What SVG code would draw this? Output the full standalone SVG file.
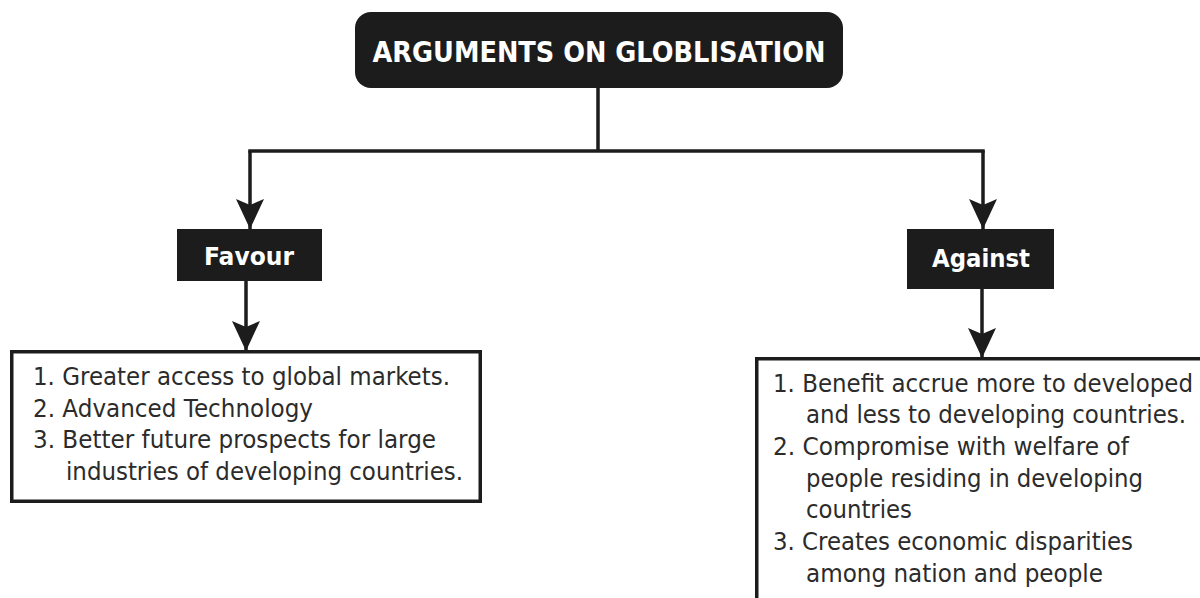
<svg xmlns="http://www.w3.org/2000/svg" width="1200" height="598" viewBox="0 0 1200 598">
  <style>
    .dark { fill: #1c1c1c; }
    .hdr { font-family: "DejaVu Sans", Verdana, sans-serif; font-weight: bold; fill: #ffffff; text-anchor: middle; }
    .body { font-family: "DejaVu Sans", Verdana, sans-serif; font-size: 24px; fill: #2b2b2b; }
    .box { fill: #ffffff; stroke: #1c1c1c; stroke-width: 3.5; }
    .conn { fill: none; stroke: #1c1c1c; stroke-width: 3.5; }
  </style>
  <defs>
    <marker id="arrow" markerUnits="userSpaceOnUse" viewBox="0 -15 30 30" markerWidth="30" markerHeight="30" refX="30" refY="0" orient="auto">
      <path d="M0,-14 L30,0 L0,14 L6,0 Z" fill="#1c1c1c"/>
    </marker>
  </defs>
  <rect width="1200" height="598" fill="#ffffff"/>

  <g id="connectors">
    <path class="conn" d="M598,88 V151"/>
    <path class="conn" d="M250,151 H983" stroke-linecap="square"/>
    <path class="conn" d="M250,151 V229" marker-end="url(#arrow)"/>
    <path class="conn" d="M983,151 V229" marker-end="url(#arrow)"/>
    <path class="conn" d="M246,281 V351" marker-end="url(#arrow)"/>
    <path class="conn" d="M982,289 V358" marker-end="url(#arrow)"/>
  </g>

  <g id="title">
    <rect class="dark" x="355" y="12" width="488" height="76" rx="16"/>
    <text class="hdr" x="599" y="62" font-size="29" textLength="453" lengthAdjust="spacingAndGlyphs">ARGUMENTS ON GLOBLISATION</text>
  </g>

  <g id="favour">
    <rect class="dark" x="177" y="229" width="145" height="52"/>
    <text class="hdr" x="249" y="265" font-size="24" textLength="90" lengthAdjust="spacingAndGlyphs">Favour</text>
  </g>

  <g id="against">
    <rect class="dark" x="907" y="229" width="147" height="60"/>
    <text class="hdr" x="981" y="267" font-size="24" textLength="98" lengthAdjust="spacingAndGlyphs">Against</text>
  </g>

  <g id="favour-points">
    <rect class="box" x="11.75" y="351.75" width="468.5" height="149.5"/>
    <text class="body" x="33" y="385" textLength="417" lengthAdjust="spacingAndGlyphs">1. Greater access to global markets.</text>
    <text class="body" x="33" y="417" textLength="280" lengthAdjust="spacingAndGlyphs">2. Advanced Technology</text>
    <text class="body" x="33" y="448" textLength="403" lengthAdjust="spacingAndGlyphs">3. Better future prospects for large</text>
    <text class="body" x="66" y="480" textLength="397" lengthAdjust="spacingAndGlyphs">industries of developing countries.</text>
  </g>

  <g id="against-points">
    <path class="box" fill="none" d="M756.75,600 V358.75 H1200"/>
    <text class="body" x="773" y="392" textLength="420" lengthAdjust="spacingAndGlyphs">1. Benefit accrue more to developed</text>
    <text class="body" x="806" y="423" textLength="380" lengthAdjust="spacingAndGlyphs">and less to developing countries.</text>
    <text class="body" x="773" y="455" textLength="356" lengthAdjust="spacingAndGlyphs">2. Compromise with welfare of</text>
    <text class="body" x="806" y="487" textLength="337" lengthAdjust="spacingAndGlyphs">people residing in developing</text>
    <text class="body" x="806" y="518" textLength="106" lengthAdjust="spacingAndGlyphs">countries</text>
    <text class="body" x="773" y="550" textLength="360" lengthAdjust="spacingAndGlyphs">3. Creates economic disparities</text>
    <text class="body" x="806" y="582" textLength="297" lengthAdjust="spacingAndGlyphs">among nation and people</text>
  </g>
</svg>
